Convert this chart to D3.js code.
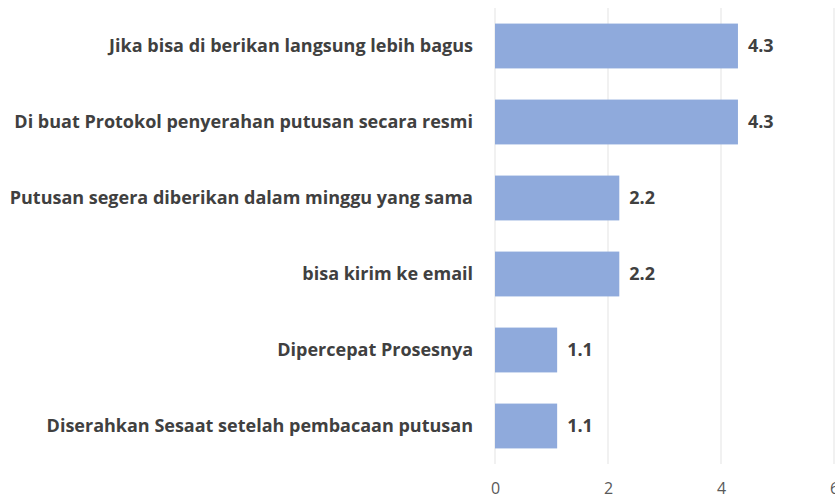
<!DOCTYPE html>
<html>
<head>
<meta charset="utf-8">
<script src="https://cdn.jsdelivr.net/npm/d3@7"></script>
<style>
  body { margin: 0; background: #fff; }
  svg { display: block; font-family: "Open Sans", Lato, sans-serif; }
</style>
</head>
<body>
<svg id="chart"></svg>
<script>
// Data
const categories = [
    'Jika bisa di berikan langsung lebih bagus',
    'Di buat Protokol penyerahan putusan secara resmi',
    'Putusan segera diberikan dalam minggu yang sama',
    'bisa kirim ke email',
    'Dipercepat Prosesnya',
    'Diserahkan Sesaat setelah pembacaan putusan'
];
const values = [4.3, 4.3, 2.2, 2.2, 1.1, 1.1];
const tickValues = [0, 2, 4, 6];

const width = 835;
const height = 498;
const margin = { top: 8, right: 1, bottom: 34, left: 495 };

const svg = d3.select('#chart')
    .attr('width', width)
    .attr('height', height);

// Scales
const x = d3.scaleLinear()
    .domain([0, 6])
    .range([margin.left, margin.left + 339]);

const y = d3.scaleBand()
    .domain(categories)
    .range([margin.top, height - margin.bottom])
    .paddingInner(0.41)
    .paddingOuter(0.205);

// Gridlines
svg.append('g')
    .selectAll('line')
    .data(tickValues)
    .enter()
    .append('line')
    .attr('x1', d => x(d))
    .attr('x2', d => x(d))
    .attr('y1', margin.top)
    .attr('y2', height - margin.bottom)
    .attr('stroke', '#e3e3e3')
    .attr('stroke-width', 1);

// Bars
svg.append('g')
    .selectAll('rect')
    .data(values)
    .enter()
    .append('rect')
    .attr('x', x(0))
    .attr('y', (d, i) => y(categories[i]))
    .attr('width', d => x(d) - x(0))
    .attr('height', y.bandwidth())
    .attr('fill', '#8faadc');

// Value labels
svg.append('g')
    .selectAll('text')
    .data(values)
    .enter()
    .append('text')
    .attr('x', d => x(d) + 10)
    .attr('y', (d, i) => y(categories[i]) + y.bandwidth() / 2)
    .attr('dy', '0.35em')
    .text(d => d.toFixed(1))
    .style('font-size', '18px')
    .style('font-weight', 'bold')
    .style('fill', '#404040');

// Category labels
svg.append('g')
    .selectAll('text')
    .data(categories)
    .enter()
    .append('text')
    .attr('x', margin.left - 22)
    .attr('y', d => y(d) + y.bandwidth() / 2)
    .attr('dy', '0.35em')
    .attr('text-anchor', 'end')
    .text(d => d)
    .style('font-size', '18px')
    .style('font-weight', 'bold')
    .style('fill', '#404040');

// X axis tick labels
const xAxis = d3.axisBottom(x)
    .tickValues(tickValues)
    .tickFormat(d3.format('d'))
    .tickSize(0)
    .tickPadding(0);

const axisG = svg.append('g')
    .attr('transform', `translate(0,${height - 10})`)
    .call(xAxis);

axisG.select('.domain').remove();
axisG.selectAll('text')
    .attr('dy', '0.35em')
    .style('font-size', '16px')
    .style('font-family', '"Open Sans", Lato, sans-serif')
    .style('fill', '#595959');
</script>
</body>
</html>
